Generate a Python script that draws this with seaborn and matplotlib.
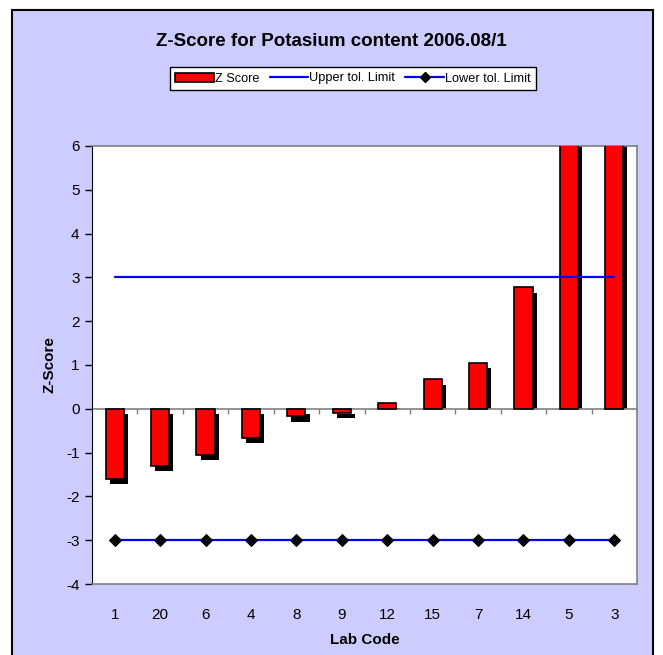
import numpy as np
import pandas as pd
import matplotlib
matplotlib.use("Agg")
import matplotlib.pyplot as plt
from matplotlib.patches import Rectangle, Patch
from matplotlib.lines import Line2D
import seaborn as sns

lab_codes = ["1", "20", "6", "4", "8", "9", "12", "15", "7", "14", "5", "3"]
z_scores = [-1.60, -1.30, -1.06, -0.66, -0.17, -0.09, 0.13, 0.67, 1.05, 2.77, 8.0, 8.5]
upper_limit = [3] * 12
lower_limit = [-3] * 12

sns.set_style("white")
plt.rcParams['font.family'] = ['Liberation Sans', 'DejaVu Sans']
plt.rcParams['text.color'] = 'black'
plt.rcParams['axes.labelcolor'] = 'black'
plt.rcParams['xtick.color'] = 'black'
plt.rcParams['ytick.color'] = 'black'
plt.rcParams['axes.unicode_minus'] = False

fig = plt.figure(figsize=(6.63, 6.55), dpi=100)
fig.patch.set_facecolor("white")
bg = Rectangle((12/663, -0.01), (653-12)/663, 1 - 10/655 + 0.01,
               transform=fig.transFigure, facecolor="#CCCCFF",
               edgecolor="black", linewidth=1.5, zorder=-10)
fig.patches.append(bg)

ax = fig.add_axes([92/663, 1 - 584/655, (637-92)/663, (584-146)/655])
ax.set_zorder(1)
ax.set_facecolor("white")

df = pd.DataFrame({"lab": lab_codes, "z": z_scores})

# shadow bars (drawn first, then shifted right/down)
sns.barplot(data=df, x="lab", y="z", order=lab_codes, color="black",
            saturation=1, width=0.4, linewidth=0, ax=ax, zorder=2)
shadow_patches = list(ax.patches)
dx, dy = 0.09, 0.12
for p in shadow_patches:
    p.set_x(p.get_x() + dx)
    h = p.get_height()
    if h >= 0:
        p.set_height(max(h - dy, 0))
    else:
        p.set_y(p.get_y() - dy)

sns.barplot(data=df, x="lab", y="z", order=lab_codes, color="#FF0000",
            saturation=1, width=0.4, edgecolor="black", linewidth=1.2, ax=ax, zorder=3)

pos = np.arange(len(lab_codes))
sns.lineplot(x=pos, y=upper_limit, color="#0000FF", linewidth=1.6, ax=ax, zorder=4)
sns.lineplot(x=pos, y=lower_limit, color="#0000FF", linewidth=1.6, marker="D",
             markersize=6, markerfacecolor="black", markeredgecolor="black", ax=ax, zorder=4)

ax.axhline(0, color="#808080", linewidth=1.2, zorder=2.5)
ax.vlines(np.arange(len(lab_codes)) + 0.5, -0.12, 0, color="#808080", linewidth=1.0, zorder=2.5)

ax.set_xlim(-0.5, len(lab_codes) - 0.5)
ax.set_ylim(-4, 6)
ax.set_yticks(range(-4, 7))
ax.set_xticks(pos)
ax.set_xticklabels(lab_codes)
ax.tick_params(axis="x", length=0, pad=17, labelsize=11)
ax.tick_params(axis="y", length=5, width=1, direction="out", left=True, labelsize=11, pad=4)

ax.spines["left"].set_color("black")
for s in ["top", "right", "bottom"]:
    ax.spines[s].set_color("#808080")
    ax.spines[s].set_linewidth(1.2)

ax.set_xlabel("Lab Code", fontsize=11, fontweight="bold", labelpad=8)
ax.set_ylabel("Z-Score", fontsize=11, fontweight="bold", labelpad=7)

fig.text(0.5, 1 - 42/655, "Z-Score for Potasium content 2006.08/1", ha="center", va="center",
         fontsize=13.5, fontweight="bold")

handles = [Patch(facecolor="#FF0000", edgecolor="black", linewidth=1.2),
           Line2D([], [], color="#0000FF", linewidth=1.6),
           Line2D([], [], color="#0000FF", linewidth=1.6, marker="D", markersize=5,
                  markerfacecolor="black", markeredgecolor="black")]
leg = fig.legend(handles, ["Z Score", "Upper tol. Limit", "Lower tol. Limit"],
                 loc="center", bbox_to_anchor=(353/663, 1 - 78.5/655), ncol=3,
                 fontsize=9.2, frameon=True, fancybox=False, handlelength=3.0,
                 handletextpad=0.1, columnspacing=0.8, borderpad=0.4)
leg.get_frame().set_edgecolor("black")
leg.get_frame().set_linewidth(1.0)
leg.get_frame().set_facecolor("white")
leg.get_frame().set_alpha(1)
leg.set_zorder(2)

fig.savefig("out.png", dpi=100)
